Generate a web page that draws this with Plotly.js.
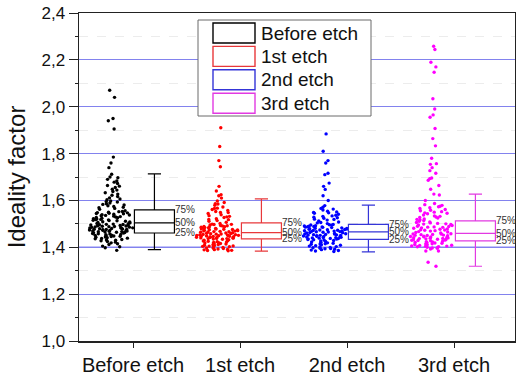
<!DOCTYPE html>
<html>
<head>
<meta charset="utf-8">
<script src="https://cdn.plot.ly/plotly-3.0.1.min.js"></script>
<style>html,body{margin:0;padding:0;background:#fff;}#chart{width:516px;height:374px;}</style>
</head>
<body>
<div id="chart"></div>
<script>
// ---- data ----
const categories = ['Before etch', '1st etch', '2nd etch', '3rd etch'];

const beforeEtch = [2.07,2.04,1.95,1.94,1.905,1.785,1.76,1.74,1.712,1.70,1.697,1.69,1.683,1.678,1.672,1.664,1.661,1.655,1.648,1.644,1.638,1.633,1.627,1.622,1.617,1.611,1.606,1.603,
1.598,1.593,1.589,1.586,1.581,1.577,1.574,1.569,1.566,1.562,1.595,1.583,1.571,
1.552,1.547,1.539,1.556,1.531,1.524,1.548,1.518,1.535,1.509,1.543,1.527,1.502,1.515,1.553,1.521,1.538,1.506,1.529,1.511,1.545,1.533,1.517,1.504,1.541,1.526,1.513,1.55,1.508,1.536,1.522,1.519,1.501,1.544,1.514,
1.498,1.492,1.487,1.481,1.476,1.495,1.469,1.484,1.473,1.49,1.466,1.479,1.497,1.462,1.486,1.471,1.493,1.477,1.468,1.489,1.464,1.482,1.474,1.496,1.461,1.485,1.47,1.491,1.478,1.467,1.488,1.475,1.463,1.494,1.48,1.472,1.499,1.465,1.483,1.476,
1.458,1.452,1.447,1.441,1.455,1.436,1.449,1.43,1.457,1.444,1.425,1.451,1.438,1.419,1.446,1.433,1.454,1.428,1.412,1.443,1.405,1.439,1.422,1.459,1.415,1.448,1.431,1.398,1.387,1.402];

const firstEtch = [1.91,1.83,1.77,1.744,1.66,1.64,1.624,1.62,1.61,
1.598,1.591,1.586,1.579,1.572,1.567,1.561,1.557,1.553,1.548,1.544,1.539,1.535,1.53,1.527,1.522,1.518,1.514,1.511,1.507,1.585,1.566,1.549,1.532,1.519,
1.502,1.497,1.493,1.489,1.486,1.482,1.478,1.475,1.471,1.468,1.465,1.499,1.491,1.484,1.477,1.473,1.469,1.466,1.495,1.487,1.48,1.474,1.464,1.498,1.483,1.476,1.47,1.467,1.492,1.479,1.488,
1.462,1.459,1.456,1.453,1.451,1.448,1.446,1.443,1.441,1.438,1.461,1.457,1.454,1.45,1.447,1.444,1.44,1.437,1.46,1.455,1.452,1.449,1.445,1.442,1.439,1.458,1.451,1.447,1.443,1.437,
1.434,1.43,1.427,1.423,1.421,1.417,1.414,1.412,1.408,1.405,1.402,1.399,1.396,1.393,1.391,1.387,1.385,1.432,1.426,1.42,1.416,1.409,1.404,1.397,1.39,1.428,1.418,1.406,1.395,1.386,1.435,1.424,1.411,1.401,1.389];

const secondEtch = [1.884,1.81,1.77,1.76,1.716,1.71,1.674,1.66,1.647,1.62,1.60,
1.578,1.571,1.566,1.559,1.554,1.549,1.545,1.541,1.537,1.532,1.528,1.524,1.52,1.516,1.512,1.508,1.504,1.501,1.563,1.547,1.534,1.519,1.506,1.551,1.526,
1.497,1.494,1.49,1.487,1.483,1.48,1.477,1.473,1.47,1.467,1.496,1.489,1.485,1.478,1.474,1.469,1.492,1.481,1.476,1.471,1.468,1.495,1.486,1.479,1.472,1.491,1.484,1.475,1.488,1.466,
1.465,1.461,1.458,1.455,1.452,1.449,1.446,1.442,1.439,1.436,1.463,1.457,1.453,1.448,1.444,1.44,1.437,1.462,1.456,1.451,1.445,1.441,1.459,1.454,1.447,1.438,1.464,1.45,1.443,1.435,
1.433,1.429,1.425,1.421,1.417,1.413,1.409,1.405,1.401,1.398,1.394,1.39,1.386,1.382,1.431,1.423,1.415,1.407,1.399,1.392,1.427,1.411,1.396,1.384,1.419,1.403,1.388,1.432,1.414,1.395];

const thirdEtch = [2.258,2.244,2.19,2.17,2.147,2.034,1.99,1.965,1.955,1.907,1.864,1.833,1.78,1.757,1.754,1.74,1.727,1.716,1.696,1.693,1.686,1.664,1.648,1.627,1.623,1.60,
1.587,1.579,1.573,1.566,1.561,1.556,1.552,1.547,1.543,1.538,1.534,1.529,1.525,1.521,1.517,1.514,1.582,1.569,1.558,1.545,1.532,1.519,1.575,1.55,1.527,
1.511,1.506,1.502,1.497,1.493,1.489,1.485,1.481,1.477,1.473,1.469,1.465,1.461,1.508,1.499,1.49,1.483,1.475,1.467,1.504,1.495,1.486,1.478,1.471,1.463,1.5,1.487,1.474,
1.458,1.455,1.452,1.449,1.446,1.443,1.44,1.437,1.434,1.431,1.428,1.457,1.451,1.445,1.439,1.433,1.429,1.454,1.447,1.441,1.436,1.43,1.456,1.444,1.432,1.45,1.438,
1.426,1.423,1.42,1.417,1.414,1.411,1.408,1.405,1.402,1.399,1.396,1.424,1.418,1.412,1.406,1.4,1.393,1.421,1.409,1.397,1.415,1.403,1.404,1.384,1.384,1.336,1.319];

// box statistics (percentile boxes drawn in the reference)
const q1Values     = [1.461, 1.436, 1.434, 1.427];
const medianValues = [1.504, 1.463, 1.466, 1.459];
const q3Values     = [1.560, 1.504, 1.498, 1.513];
const lowerWhisker = [1.390, 1.384, 1.380, 1.319];
const upperWhisker = [1.713, 1.607, 1.580, 1.627];
const percentLabels = ['25%', '50%', '75%'];

// ---- styling ----
const samples = [beforeEtch, firstEtch, secondEtch, thirdEtch];
const pointColors = ['#000000', '#ff0000', '#0000ff', '#ff00ff'];
const boxColors = ['#000000', '#e8383b', '#3535d8', '#e23ae2'];
const PTS_OFF = -0.2, BOX_OFF = 0.2, BOX_W = 0.374;

// plot area in pixels
const L = 79, R = 515, T = 13, B = 341;
const px2x = p => (p - L) / (R - L);
const py2y = p => (B - p) / (B - T);

const traces = [];
categories.forEach((c, i) => {
  traces.push({
    type: 'box', name: c, y: samples[i], x0: i + PTS_OFF, width: 0.42,
    boxpoints: 'all', jitter: 1, pointpos: 0,
    fillcolor: 'rgba(0,0,0,0)', line: {width: 0, color: 'rgba(0,0,0,0)'},
    marker: {color: pointColors[i], size: 3.4},
    showlegend: false, hoverinfo: 'y'
  });
  traces.push({
    type: 'box', name: c, orientation: 'v', x: [i + BOX_OFF],
    q1: [q1Values[i]], median: [medianValues[i]], q3: [q3Values[i]],
    lowerfence: [lowerWhisker[i]], upperfence: [upperWhisker[i]],
    width: BOX_W, whiskerwidth: 0.33, boxpoints: false,
    fillcolor: 'rgba(255,255,255,1)', line: {color: boxColors[i], width: 1.2},
    showlegend: false
  });
});

const annotations = [];
categories.forEach((c, i) => {
  [q1Values[i], medianValues[i], q3Values[i]].forEach((v, k) => {
    annotations.push({
      x: i + BOX_OFF + BOX_W / 2, y: v, xref: 'x', yref: 'y',
      text: percentLabels[k], showarrow: false, xanchor: 'left', yanchor: 'middle',
      xshift: 0, font: {size: 10, color: '#333'}, borderpad: 0
    });
  });
});

const shapes = [
  {type: 'line', xref: 'paper', yref: 'y', x0: 0, x1: 1, y0: 1.4, y1: 1.4,
   line: {color: '#1212e6', width: 1.3}, layer: 'below'},
  {type: 'rect', xref: 'paper', yref: 'paper', x0: px2x(198), x1: px2x(371), y0: py2y(116), y1: py2y(20),
   line: {color: '#6a6a6a', width: 1}, fillcolor: '#ffffff', layer: 'above'}
];
categories.forEach((c, i) => {
  const cy = 33 + i * 23.4;
  shapes.push({type: 'rect', xref: 'paper', yref: 'paper',
    x0: px2x(213), x1: px2x(255), y0: py2y(cy + 10), y1: py2y(cy - 10),
    line: {color: boxColors[i], width: 1.4}, fillcolor: '#ffffff', layer: 'above'});
  annotations.push({xref: 'paper', yref: 'paper', x: px2x(259), y: py2y(cy),
    text: c, showarrow: false, xanchor: 'left', yanchor: 'middle',
    font: {size: 19, color: '#111'}});
});

const layout = {
  width: 516, height: 374,
  margin: {l: L, r: 516 - R, t: T, b: 374 - B, pad: 0},
  paper_bgcolor: '#ffffff', plot_bgcolor: '#ffffff',
  font: {family: 'Liberation Sans, Arial, sans-serif', color: '#111'},
  separators: ',.',
  showlegend: false,
  xaxis: {
    range: [-0.505, 3.57], tickvals: [0, 1, 2, 3], ticktext: categories,
    ticks: 'outside', ticklen: 5, tickcolor: '#222', tickwidth: 1,
    showgrid: false, zeroline: false, showline: true, mirror: true,
    linecolor: '#222', linewidth: 1.5, tickfont: {size: 20, color: '#111'}
  },
  yaxis: {
    range: [1.0, 2.4], tick0: 1.0, dtick: 0.2, tickformat: '.1f',
    ticks: 'outside', ticklen: 9, tickcolor: '#222', tickwidth: 1,
    showgrid: true, gridcolor: '#8282ee', gridwidth: 1,
    minor: {dtick: 0.1, ticks: 'outside', ticklen: 3, tickcolor: '#222',
            showgrid: true, gridcolor: '#ececec', griddash: 'dash'},
    zeroline: false, showline: true, mirror: true, linecolor: '#222', linewidth: 1.5,
    tickfont: {size: 17, color: '#111'},
    title: {text: 'Ideality factor', font: {size: 24, color: '#111'}, standoff: 9}
  },
  annotations: annotations,
  shapes: shapes
};

Plotly.newPlot('chart', traces, layout, {displayModeBar: false, staticPlot: true});
</script>
</body>
</html>
